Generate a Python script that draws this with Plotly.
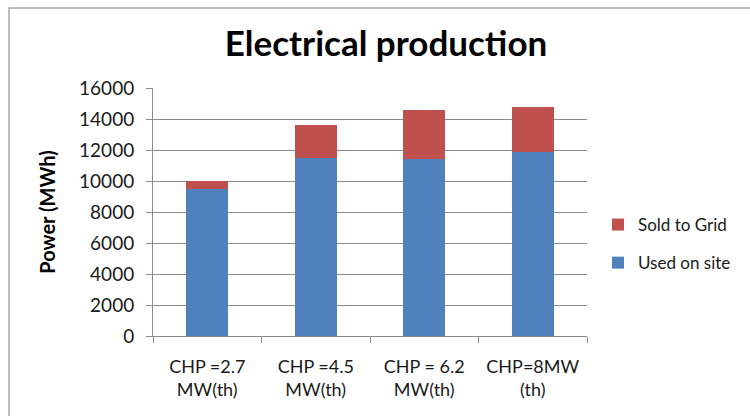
import plotly.graph_objects as go

# Electrical production per CHP size (MWh)
categories = ["CHP =2.7<br>MW(th)", "CHP =4.5<br>MW(th)", "CHP = 6.2<br>MW(th)", "CHP=8MW<br>(th)"]
used_on_site = [9500, 11500, 11400, 11850]
sold_to_grid = [500, 2100, 3200, 2950]
y_ticks = [0, 2000, 4000, 6000, 8000, 10000, 12000, 14000, 16000]

FONT = "Lato"
TEXT = "#1a1a1a"
GRID = "#8c8c8c"

fig = go.Figure()
fig.add_trace(go.Bar(
    x=categories, y=used_on_site, name="Used on site",
    marker=dict(color="#4F81BD", line=dict(width=0)),
    legendgroup="used", legendrank=2,
))
fig.add_trace(go.Bar(
    x=categories, y=sold_to_grid, name="Sold to Grid",
    marker=dict(color="#C0504D", line=dict(width=0)),
    legendgroup="sold", legendrank=1,
))

W, H = 750, 416
L, R, T, B = 153, 163, 88, 80
pw, ph = W - L - R, H - T - B

def px_x(v):
    return (v - L) / pw

def px_y(v):
    return (H - B - v) / ph

fig.update_layout(
    width=W, height=H,
    margin=dict(l=L, r=R, t=T, b=B, autoexpand=False),
    paper_bgcolor="white", plot_bgcolor="white",
    barmode="stack", bargap=0.61,
    font=dict(family=FONT, color=TEXT, size=15),
    title=dict(text="<b>Electrical production</b>", xref="container", x=386 / W,
               xanchor="center", yref="container", y=1 - 44 / H, yanchor="middle",
               font=dict(family=FONT, size=35, color="#000000")),
    legend=dict(x=px_x(598), xanchor="left", y=px_y(244), yanchor="middle",
                traceorder="grouped", tracegroupgap=13,
                font=dict(family=FONT, size=17, color=TEXT),
                bgcolor="rgba(0,0,0,0)"),
    showlegend=True,
    shapes=[dict(type="rect", xref="paper", yref="paper",
                 x0=px_x(9), x1=px_x(W + 20), y0=px_y(H + 20), y1=px_y(8),
                 line=dict(color="#a6a6a6", width=1.5), layer="below")],
)

fig.update_xaxes(
    showline=True, linecolor=GRID, linewidth=1, automargin=False, tickangle=0,
    ticks="outside", tickson="boundaries", ticklen=6, tickcolor=GRID,
    showgrid=False, ticklabelstandoff=14,
    tickfont=dict(family=FONT, size=18, color=TEXT),
)
fig.update_yaxes(
    range=[0, 16000], tickvals=y_ticks, tickformat="d", automargin=False,
    showline=True, linecolor=GRID, linewidth=1,
    ticks="outside", ticklen=6, tickcolor=GRID, ticklabelstandoff=8,
    showgrid=True, gridcolor=GRID, gridwidth=1, zeroline=False,
    tickfont=dict(family=FONT, size=19, color=TEXT),
    title=dict(text="<b>Power (MWh)</b>", standoff=18,
               font=dict(family=FONT, size=20, color="#000000")),
)

fig.write_html("out.html")
